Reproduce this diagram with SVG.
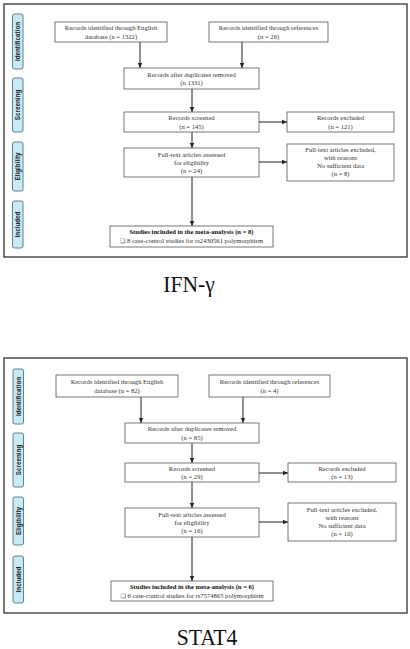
<svg xmlns="http://www.w3.org/2000/svg" width="410" height="649" viewBox="0 0 410 649">
<defs>
<marker id="ah" markerWidth="6" markerHeight="6" refX="5" refY="3" orient="auto" markerUnits="userSpaceOnUse">
<path d="M0,0.8 L5,3 L0,5.2 Z" fill="#222"/>
</marker>
<style>
.frame{fill:#fff;stroke:#333;stroke-width:1.3}
.box{fill:#fff;stroke:#555;stroke-width:0.8}
.pill{fill:#c6ebf7;stroke:#55707f;stroke-width:0.9}
.pt{font-family:"Liberation Sans",Arial,sans-serif;font-weight:bold;font-size:6.3px;fill:#222;text-anchor:middle}
.t{font-family:"Liberation Serif","Times New Roman","DejaVu Serif",serif;font-size:6.6px;fill:#333;text-anchor:middle}
.b{font-weight:bold;fill:#111}
.c{stroke:#222;stroke-width:1;fill:none;marker-end:url(#ah)}
.title{font-family:"Liberation Serif","Times New Roman","DejaVu Serif",serif;font-size:24px;fill:#111;text-anchor:middle}
</style>
</defs>
<rect width="410" height="649" fill="#fff"/>

<!-- Panel 1 -->
<rect class="frame" x="4" y="4" width="403" height="253"/>
<g id="p1-stages">
<rect class="pill" x="12.5" y="14" width="10.5" height="55" rx="2"/>
<text class="pt" transform="translate(20,41.5) rotate(-90)">Identification</text>
<rect class="pill" x="12.5" y="78" width="10.5" height="54" rx="2"/>
<text class="pt" transform="translate(20,105) rotate(-90)">Screening</text>
<rect class="pill" x="12.5" y="142" width="10.5" height="49" rx="2"/>
<text class="pt" transform="translate(20,166.5) rotate(-90)">Eligibility</text>
<rect class="pill" x="12.5" y="201" width="10.5" height="47" rx="2"/>
<text class="pt" transform="translate(20,224.5) rotate(-90)">Included</text>
</g>
<g id="p1-connectors">
<line class="c" x1="140" y1="42" x2="140" y2="68"/>
<line class="c" x1="242" y1="42" x2="242" y2="68"/>
<line class="c" x1="192" y1="89" x2="192" y2="112"/>
<line class="c" x1="259" y1="122" x2="287" y2="122"/>
<line class="c" x1="192" y1="132" x2="192" y2="148"/>
<line class="c" x1="259" y1="162" x2="287" y2="162"/>
<line class="c" x1="192" y1="177" x2="192" y2="226"/>
</g>
<g id="p1-a"><rect class="box" x="55" y="22" width="112" height="20"/>
<text class="t" x="111" y="30">Records identified  through English</text>
<text class="t" x="111" y="38.5">database (n = 1322)</text></g>
<g id="p1-b"><rect class="box" x="209" y="22" width="119" height="20"/>
<text class="t" x="268.5" y="30">Records identified  through references</text>
<text class="t" x="268.5" y="38.5">(n = 26)</text></g>
<g id="p1-c"><rect class="box" x="124" y="68" width="135" height="21"/>
<text class="t" x="191.5" y="76.5">Records after  duplicates removed</text>
<text class="t" x="191.5" y="85">(n 1331)</text></g>
<g id="p1-d"><rect class="box" x="124" y="112" width="135" height="20"/>
<text class="t" x="191.5" y="120">Records screened</text>
<text class="t" x="191.5" y="128.5">(n = 145)</text></g>
<g id="p1-e"><rect class="box" x="287" y="112" width="107" height="20"/>
<text class="t" x="340.5" y="120">Records excluded</text>
<text class="t" x="340.5" y="128.5">(n = 121)</text></g>
<g id="p1-f"><rect class="box" x="124" y="148" width="135" height="29"/>
<text class="t" x="191.5" y="156.5">Full-text articles assessed</text>
<text class="t" x="191.5" y="164.5">for eligibility</text>
<text class="t" x="191.5" y="172.5">(n = 24)</text></g>
<g id="p1-g"><rect class="box" x="287" y="144" width="107" height="37"/>
<text class="t" x="340.5" y="152">Full-text articles excluded,</text>
<text class="t" x="340.5" y="160">with reasons</text>
<text class="t" x="340.5" y="168">No sufficient  data</text>
<text class="t" x="340.5" y="176">(n = 8)</text></g>
<g id="p1-h"><rect class="box" x="110" y="226" width="163" height="21"/>
<text class="t b" x="191.5" y="234">Studies included in the meta-analysis (n = 8)</text>
<text class="t" x="191.5" y="243"><tspan font-family="DejaVu Sans" font-size="6">❑</tspan> 8 case-control studies for rs2430561  polymorphism</text></g>
<text class="title" x="189" y="292" transform="translate(189,0) scale(0.9,1) translate(-189,0)">IFN-γ</text>

<!-- Panel 2 -->
<rect class="frame" x="4" y="358" width="403" height="255"/>
<g id="p2-stages">
<rect class="pill" x="13" y="369" width="10.5" height="55" rx="2"/>
<text class="pt" transform="translate(20.5,396.5) rotate(-90)">Identification</text>
<rect class="pill" x="13" y="433" width="10.5" height="54" rx="2"/>
<text class="pt" transform="translate(20.5,460) rotate(-90)">Screening</text>
<rect class="pill" x="13" y="497" width="10.5" height="48" rx="2"/>
<text class="pt" transform="translate(20.5,521) rotate(-90)">Eligibility</text>
<rect class="pill" x="13" y="556" width="10.5" height="47" rx="2"/>
<text class="pt" transform="translate(20.5,579.5) rotate(-90)">Included</text>
</g>
<g id="p2-connectors">
<line class="c" x1="141" y1="397" x2="141" y2="423"/>
<line class="c" x1="243" y1="397" x2="243" y2="423"/>
<line class="c" x1="192" y1="443" x2="192" y2="463"/>
<line class="c" x1="259" y1="473" x2="288" y2="473"/>
<line class="c" x1="192" y1="482" x2="192" y2="508"/>
<line class="c" x1="259" y1="522" x2="288" y2="522"/>
<line class="c" x1="192" y1="537" x2="192" y2="581"/>
</g>
<g id="p2-a"><rect class="box" x="56" y="375" width="122" height="22"/>
<text class="t" x="117" y="384">Records identified  through English</text>
<text class="t" x="117" y="392.5">database (n = 82)</text></g>
<g id="p2-b"><rect class="box" x="209" y="375" width="121" height="22"/>
<text class="t" x="269.5" y="384">Records identified  through references</text>
<text class="t" x="269.5" y="392.5">(n = 4)</text></g>
<g id="p2-c"><rect class="box" x="125" y="423" width="134" height="20"/>
<text class="t" x="192" y="431">Records after duplicates removed</text>
<text class="t" x="192" y="439.5">(n = 85)</text></g>
<g id="p2-d"><rect class="box" x="125" y="463" width="134" height="19"/>
<text class="t" x="192" y="470.5">Records screened</text>
<text class="t" x="192" y="478.5">(n = 29)</text></g>
<g id="p2-e"><rect class="box" x="288" y="463" width="108" height="19"/>
<text class="t" x="342" y="470.5">Records excluded</text>
<text class="t" x="342" y="478.5">(n = 13)</text></g>
<g id="p2-f"><rect class="box" x="125" y="508" width="134" height="29"/>
<text class="t" x="192" y="516.5">Full-text articles assessed</text>
<text class="t" x="192" y="524.5">for eligibility</text>
<text class="t" x="192" y="532.5">(n = 16)</text></g>
<g id="p2-g"><rect class="box" x="288" y="503" width="108" height="38"/>
<text class="t" x="342" y="511.5">Full-text articles excluded,</text>
<text class="t" x="342" y="519.5">with reasons</text>
<text class="t" x="342" y="527.5">No sufficient  data</text>
<text class="t" x="342" y="535.5">(n = 10)</text></g>
<g id="p2-h"><rect class="box" x="111" y="581" width="162" height="20"/>
<text class="t b" x="192" y="589">Studies included in the meta-analysis (n = 6)</text>
<text class="t" x="192" y="597.5"><tspan font-family="DejaVu Sans" font-size="6">❑</tspan> 6 case-control studies for rs7574865  polymorphism</text></g>
<text class="title" x="207" y="645" transform="translate(207,0) scale(0.9,1) translate(-207,0)">STAT4</text>
</svg>
